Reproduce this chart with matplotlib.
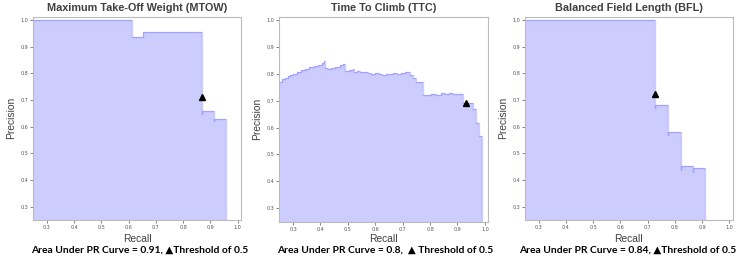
import matplotlib
matplotlib.use("Agg")
import matplotlib.pyplot as plt

titles = ["Maximum Take-Off Weight (MTOW)", "Time To Climb (TTC)", "Balanced Field Length (BFL)"]
captions = ["Area Under PR Curve = 0.91, \u25B2Threshold of 0.5",
            "Area Under PR Curve = 0.8,  \u25B2 Threshold of 0.5",
            "Area Under PR Curve = 0.84, \u25B2Threshold of 0.5"]

mtow_recall = [0.20, 0.611, 0.652, 0.871, 0.871, 0.914, 0.914, 0.957]
mtow_precision = [1.0, 0.938, 0.954, 0.647, 0.659, 0.622, 0.630, 0.0]
mtow_thr = (0.871, 0.713)

ttc_recall = [0.240, 0.250, 0.260, 0.270, 0.280, 0.290, 0.300, 0.315, 0.330, 0.345, 0.360,
              0.375, 0.390, 0.405, 0.412, 0.418, 0.428, 0.440, 0.455, 0.470, 0.484, 0.490,
              0.505, 0.518, 0.524, 0.535, 0.545, 0.560, 0.575, 0.585, 0.600, 0.612, 0.625,
              0.640, 0.655, 0.665, 0.680, 0.695, 0.710, 0.722, 0.728, 0.738, 0.750, 0.775,
              0.790, 0.805, 0.820, 0.840, 0.855, 0.870, 0.885, 0.900, 0.920, 0.957, 0.968,
              0.978, 0.988]
ttc_precision = [0.768, 0.771, 0.779, 0.785, 0.791, 0.796, 0.801, 0.807, 0.813, 0.819, 0.824,
                 0.829, 0.834, 0.840, 0.846, 0.820, 0.817, 0.822, 0.827, 0.832, 0.837, 0.810,
                 0.814, 0.817, 0.808, 0.811, 0.805, 0.808, 0.803, 0.799, 0.803, 0.800, 0.797,
                 0.801, 0.798, 0.802, 0.798, 0.802, 0.806, 0.808, 0.796, 0.784, 0.770, 0.720,
                 0.723, 0.726, 0.723, 0.728, 0.725, 0.729, 0.724, 0.726, 0.692, 0.668, 0.617,
                 0.568, 0.0]
ttc_thr = (0.931, 0.692)

bfl_recall = [0.20, 0.729, 0.729, 0.775, 0.775, 0.821, 0.821, 0.868, 0.868, 0.912]
bfl_precision = [1.0, 0.669, 0.680, 0.568, 0.580, 0.438, 0.454, 0.431, 0.444, 0.0]
bfl_thr = (0.729, 0.7225)

ticks = [0.3, 0.4, 0.5, 0.6, 0.7, 0.8, 0.9, 1.0]
tick_labels = ["0.3", "0.4", "0.5", "0.6", "0.7", "0.8", "0.9", "1.0"]

series = [(mtow_recall, mtow_precision, mtow_thr),
          (ttc_recall, ttc_precision, ttc_thr),
          (bfl_recall, bfl_precision, bfl_thr)]

W, H = 737, 259
fig = plt.figure(figsize=(W / 100, H / 100), dpi=100)

boxes = [(33.3, 241.0, 16.7, 220.0),
         (279.3, 488.3, 16.7, 221.7),
         (525.0, 732.7, 16.7, 220.0)]
cap_x = [140, 385, 628]

txt_col = "#404040"
for i, ((r, p, thr), (l, rr, t, b)) in enumerate(zip(series, boxes)):
    ax = fig.add_axes([l / W, 1 - b / H, (rr - l) / W, (b - t) / H])
    ax.step(r, p, color="b", alpha=0.2, where="post", lw=1.0)
    ax.fill_between(r, p, step="post", alpha=0.2, color="b", lw=0)
    ax.plot([thr[0]], [thr[1]], marker="^", color="black", markersize=5, linestyle="none")
    ax.set_xlim(0.25, 1.0125)
    ax.set_ylim(0.25, 1.0125)
    ax.set_xticks(ticks)
    ax.set_xticklabels(tick_labels)
    ax.set_yticks(ticks)
    ax.set_yticklabels(tick_labels)
    ax.tick_params(labelsize=3.5, colors="#555555", length=2, width=0.5, pad=1.5)
    for s in ax.spines.values():
        s.set_color("#bbbbbb")
        s.set_linewidth(0.8)
    ax.set_title(titles[i], fontsize=7.8, fontweight="bold", color=txt_col,
                 family="Liberation Sans", pad=4)
    ax.set_xlabel("Recall", fontsize=7.4, color=txt_col, family="Liberation Sans")
    ax.set_ylabel("Precision", fontsize=7.4, color=txt_col, family="Liberation Sans")
    hpx = b - t
    wpx = rr - l
    ax.xaxis.set_label_coords(0.5, -(234.0 - b) / hpx)
    ax.yaxis.set_label_coords(-17.0 / wpx, 0.5)
    fig.text(cap_x[i] / W, 1 - 250.5 / H, captions[i], ha="center", va="center",
             fontsize=7.4, fontweight="bold", color="black", family=["Lato", "DejaVu Sans"])

fig.savefig("out.png", dpi=100, facecolor="white")
